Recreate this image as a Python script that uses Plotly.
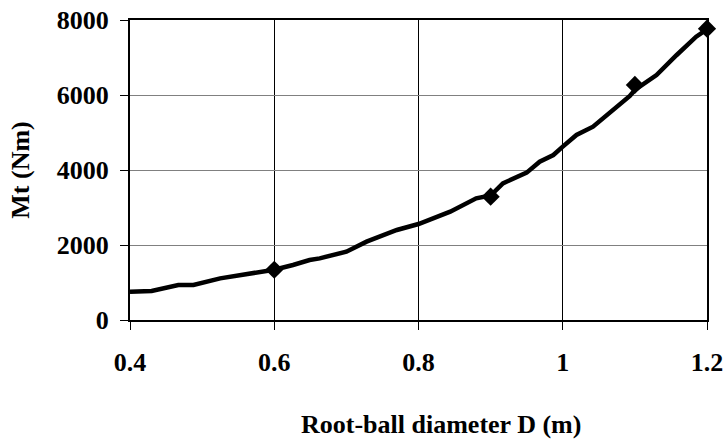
import plotly.graph_objects as go

# Smooth curve
curve_x = [0.40, 0.43, 0.467, 0.488, 0.525, 0.58, 0.60, 0.626, 0.649, 0.663, 0.682, 0.70,
           0.728, 0.77, 0.80, 0.844, 0.88, 0.90, 0.917, 0.95, 0.968, 0.987, 1.0, 1.019,
           1.042, 1.056, 1.074, 1.093, 1.10, 1.13, 1.158, 1.185, 1.20]
curve_y = [755, 773, 933, 933, 1111, 1289, 1340, 1467, 1600, 1644, 1733, 1822,
           2089, 2400, 2560, 2889, 3244, 3320, 3644, 3929, 4222, 4400, 4622, 4933,
           5155, 5378, 5689, 5973, 6133, 6533, 7067, 7556, 7750]

# Measured points (diamonds)
point_x = [0.6, 0.9, 1.1, 1.2]
point_y = [1340, 3290, 6270, 7770]

x_ticks = [0.4, 0.6, 0.8, 1.0, 1.2]
x_tick_labels = ["0.4", "0.6", "0.8", "1", "1.2"]
y_ticks = [0, 2000, 4000, 6000, 8000]
y_tick_labels = ["0", "2000", "4000", "6000", "8000"]

FONT = "Liberation Serif"
FS = 26

fig = go.Figure()
fig.add_trace(go.Scatter(x=curve_x, y=curve_y, mode="lines",
                         line=dict(color="black", width=4.5), showlegend=False))
fig.add_trace(go.Scatter(x=point_x, y=point_y, mode="markers",
                         marker=dict(symbol="diamond", size=14, color="black"),
                         showlegend=False, cliponaxis=False))

fig.update_layout(
    width=727, height=442,
    margin=dict(l=130, r=20, t=20, b=122),
    paper_bgcolor="white", plot_bgcolor="white",
    font=dict(family=FONT, size=FS, color="black"),
    xaxis=dict(range=[0.4, 1.2], tickvals=x_ticks, ticktext=x_tick_labels,
               showgrid=True, gridcolor="black", gridwidth=1,
               showline=True, linecolor="black", linewidth=2, mirror=True,
               ticks="outside", ticklen=8, tickcolor="black", tickwidth=1,
               ticklabelstandoff=10, zeroline=False, automargin=False,
               ticklabeloverflow="allow",
               tickfont=dict(family=FONT, size=FS, weight="bold")),
    yaxis=dict(range=[0, 8000], tickvals=y_ticks, ticktext=y_tick_labels,
               showgrid=True, gridcolor="#808080", gridwidth=1,
               showline=True, linecolor="black", linewidth=2, mirror=True,
               ticks="outside", ticklen=8, tickcolor="black", tickwidth=1,
               ticklabelstandoff=6, zeroline=False, automargin=False,
               ticklabeloverflow="allow",
               title=dict(text="<b>Mt (Nm)</b>", font=dict(family=FONT, size=FS), standoff=20),
               tickfont=dict(family=FONT, size=FS, weight="bold")),
    annotations=[dict(text="<b>Root-ball diameter D (m)</b>", xref="paper", yref="paper",
                      x=0.539, y=-0.347, xanchor="center", yanchor="middle",
                      showarrow=False, font=dict(family=FONT, size=FS, color="black"))],
)

fig.write_html("out.html", config={"displayModeBar": False},
               post_script="document.body.style.margin='0';")
